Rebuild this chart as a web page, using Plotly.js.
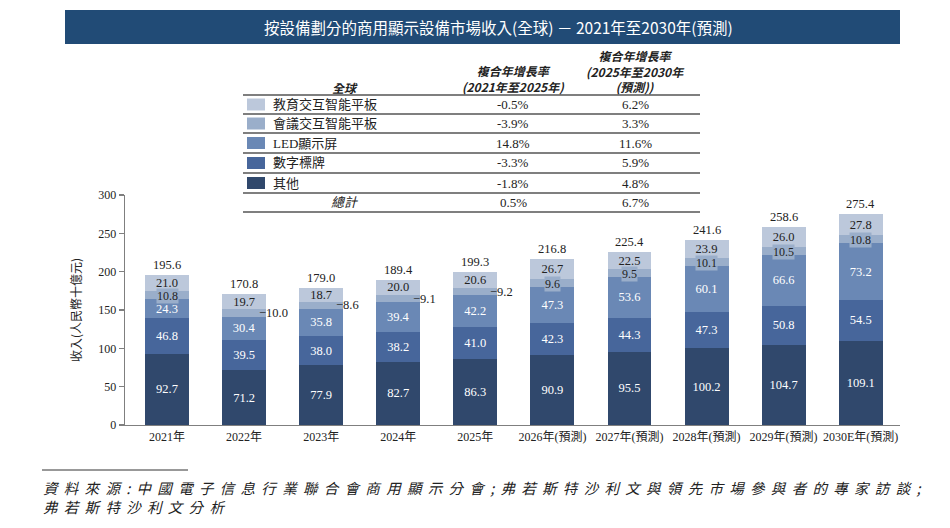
<!DOCTYPE html>
<html>
<head>
<meta charset="utf-8">
<script src="https://cdn.plot.ly/plotly-3.0.1.min.js"></script>
<style>
  html, body { margin: 0; padding: 0; background: #ffffff; }
  #chart { width: 950px; height: 528px; }
  /* widen the tracking of the two source lines at the foot of the chart */
  #chart g.annotation[data-index="0"] text,
  #chart g.annotation[data-index="1"] text { letter-spacing: 6.3px; }
</style>
</head>
<body>
<div id="chart"></div>
<script>
// ---- data -------------------------------------------------------------
const years = ['2021年', '2022年', '2023年', '2024年', '2025年',
               '2026年(預測)', '2027年(預測)', '2028年(預測)', '2029年(預測)', '2030E年(預測)'];

const other      = [92.7, 71.2, 77.9, 82.7, 86.3, 90.9, 95.5, 100.2, 104.7, 109.1];   // 其他
const signage    = [46.8, 39.5, 38.0, 38.2, 41.0, 42.3, 44.3, 47.3, 50.8, 54.5];      // 數字標牌
const ledDisplay = [24.3, 30.4, 35.8, 39.4, 42.2, 47.3, 53.6, 60.1, 66.6, 73.2];      // LED顯示屏
const conference = [10.8, 10.0, 8.6, 9.1, 9.2, 9.6, 9.5, 10.1, 10.5, 10.8];          // 會議交互智能平板
const education  = [21.0, 19.7, 18.7, 20.0, 20.6, 26.7, 22.5, 23.9, 26.0, 27.8];     // 教育交互智能平板
const totals     = [195.6, 170.8, 179.0, 189.4, 199.3, 216.8, 225.4, 241.6, 258.6, 275.4];

// CAGR table rows (top to bottom)
const tableNames = ['教育交互智能平板', '會議交互智能平板', 'LED顯示屏', '數字標牌', '其他'];
const cagr2125   = ['-0.5%', '-3.9%', '14.8%', '-3.3%', '-1.8%'];
const cagr2530   = ['6.2%', '3.3%', '11.6%', '5.9%', '4.8%'];
const totalName  = '總計';
const totalCagr  = ['0.5%', '6.7%'];

const yTicks = [0, 50, 100, 150, 200, 250, 300];

// ---- styling ----------------------------------------------------------
const COL = {
  education: '#bcc8db',
  conference: '#9aaeca',
  led: '#6a88b5',
  signage: '#47669b',
  other: '#30486c'
};
const tableColors = [COL.education, COL.conference, COL.led, COL.signage, COL.other];
const SERIF = '"Liberation Serif", "Noto Sans CJK TC", serif';
const CJK = '"Noto Sans CJK TC", "Liberation Serif", sans-serif';
// years whose conference value sits beside the bar instead of inside it
const confBeside = ['2022年', '2023年', '2024年', '2025年'];

// plot area in pixels
const L = 125, R = 900, T = 195, B = 425;
const px = x => (x - L) / (R - L);
const py = y => (B - y) / (B - T);

function segment(name, vals, color, textColor, withText) {
  return {
    type: 'bar', name: name, x: years, y: vals,
    width: 0.57,
    marker: { color: color, line: { width: 0 } },
    texttemplate: withText ? '%{y:.1f}' : '',
    textposition: withText ? 'inside' : 'none',
    insidetextanchor: 'middle',
    constraintext: 'none',
    textangle: 0,
    textfont: { family: SERIF, size: 12.5, color: textColor },
    hoverinfo: 'skip'
  };
}

const traces = [
  segment('其他', other, COL.other, '#ffffff', true),
  segment('數字標牌', signage, COL.signage, '#ffffff', true),
  segment('LED顯示屏', ledDisplay, COL.led, '#ffffff', true),
  segment('會議交互智能平板', conference, COL.conference, '#222222', false),
  segment('教育交互智能平板', education, COL.education, '#222222', true)
];

// ---- annotations & shapes ---------------------------------------------
const annotations = [];
const shapes = [];

// source lines (kept first so the tracking rule above applies to them)
annotations.push({
  xref: 'paper', yref: 'paper', x: px(42), y: py(487), xanchor: 'left', yanchor: 'middle',
  align: 'left', showarrow: false, borderpad: 0,
  text: '<i>資料來源:中國電子信息行業聯合會商用顯示分會;弗若斯特沙利文與領先市場參與者的專家訪談;</i>',
  font: { family: CJK, size: 14.5, color: '#222222' }
});
annotations.push({
  xref: 'paper', yref: 'paper', x: px(42), y: py(506), xanchor: 'left', yanchor: 'middle',
  align: 'left', showarrow: false, borderpad: 0,
  text: '<i>弗若斯特沙利文分析</i>',
  font: { family: CJK, size: 14.5, color: '#222222' }
});
shapes.push({ type: 'line', xref: 'paper', yref: 'paper', x0: px(42), x1: px(188), y0: py(470), y1: py(470),
  line: { color: '#333333', width: 1 } });

// heading band
shapes.push({ type: 'rect', xref: 'paper', yref: 'paper', x0: px(65), x1: px(900), y0: py(44), y1: py(10),
  fillcolor: '#214b76', line: { width: 0 }, layer: 'below' });
annotations.push({
  xref: 'paper', yref: 'paper', x: px(498), y: py(27), xanchor: 'center', yanchor: 'middle', showarrow: false,
  text: '按設備劃分的商用顯示設備市場收入(全球) － 2021年至2030年(預測)',
  font: { family: CJK, size: 15.5, color: '#ffffff' }
});

// totals above each stack
years.forEach((yr, i) => {
  annotations.push({
    x: yr, y: totals[i], xref: 'x', yref: 'y', yanchor: 'bottom', showarrow: false, yshift: 1,
    text: totals[i].toFixed(1), font: { family: SERIF, size: 12.5, color: '#222222' }
  });
});

// conference-panel values
years.forEach((yr, i) => {
  const base = other[i] + signage[i] + ledDisplay[i];
  const mid = base + conference[i] / 2;
  if (confBeside.includes(yr)) {
    annotations.push({
      x: i + 0.285, y: mid, xref: 'x', yref: 'y', xanchor: 'left', yanchor: 'middle', showarrow: false,
      xshift: -9, text: '−' + conference[i].toFixed(1),
      font: { family: SERIF, size: 12.5, color: '#222222' }
    });
  } else {
    annotations.push({
      x: yr, y: mid, xref: 'x', yref: 'y', yanchor: 'middle', showarrow: false, yshift: -1,
      text: conference[i].toFixed(1), bgcolor: COL.conference, borderpad: 0,
      font: { family: SERIF, size: 12, color: '#222222' }
    });
  }
});

// CAGR table
const tLeft = 243, tRight = 700, col2 = 513, col3 = 635, nameX = 272, headX = 345;
const ruleY = [95, 114, 133, 153, 173, 193, 212];
ruleY.forEach(y => shapes.push({
  type: 'line', xref: 'paper', yref: 'paper', x0: px(tLeft), x1: px(tRight), y0: py(y), y1: py(y),
  line: { color: '#555555', width: 1.3 }
}));
function cell(x, y, text, anchor, font) {
  annotations.push({
    xref: 'paper', yref: 'paper', x: px(x), y: py(y), xanchor: anchor, yanchor: 'middle',
    showarrow: false, borderpad: 0, text: text, font: font
  });
}
const headFont = { family: CJK, size: 12, color: '#222222' };
const bodyFont = { family: SERIF, size: 13, color: '#222222' };
cell(headX, 87, '<b><i>全球</i></b>', 'center', headFont);
cell(col2, 78.5, '<b><i>複合年增長率<br>(2021年至2025年)</i></b>', 'center', headFont);
cell(col3, 71, '<b><i>複合年增長率<br>(2025年至2030年<br>(預測))</i></b>', 'center', headFont);

tableNames.forEach((nm, r) => {
  const yc = (ruleY[r] + ruleY[r + 1]) / 2;
  shapes.push({
    type: 'rect', xref: 'paper', yref: 'paper', x0: px(247), x1: px(265), y0: py(yc + 6), y1: py(yc - 6),
    fillcolor: tableColors[r], line: { width: 0 }
  });
  cell(nameX, yc, nm, 'left', bodyFont);
  cell(col2, yc, cagr2125[r], 'center', bodyFont);
  cell(col3, yc, cagr2530[r], 'center', bodyFont);
});
const totY = (ruleY[5] + ruleY[6]) / 2;
cell(headX, totY, '<i>' + totalName + '</i>', 'center', bodyFont);
cell(col2, totY, totalCagr[0], 'center', bodyFont);
cell(col3, totY, totalCagr[1], 'center', bodyFont);

// ---- layout -------------------------------------------------------------
const layout = {
  width: 950, height: 528,
  margin: { l: L, r: 950 - R, t: T, b: 528 - B, pad: 0 },
  paper_bgcolor: '#ffffff', plot_bgcolor: '#ffffff',
  barmode: 'stack', bargap: 0.43,
  showlegend: false,
  font: { family: SERIF, size: 12, color: '#222222' },
  xaxis: {
    type: 'category', range: [-0.545, 9.51],
    showline: true, linecolor: '#7f7f7f', linewidth: 1.3,
    ticks: '', showgrid: false, zeroline: false,
    tickfont: { family: SERIF, size: 12, color: '#222222' }
  },
  yaxis: {
    range: [0, 300], tickvals: yTicks, ticktext: yTicks.map(String),
    showline: true, linecolor: '#7f7f7f', linewidth: 1.3,
    ticks: 'outside', ticklen: 5, tickcolor: '#7f7f7f', tickwidth: 1.3,
    showgrid: false, zeroline: false,
    tickfont: { family: SERIF, size: 12, color: '#222222' },
    title: { text: '收入(人民幣十億元)', standoff: 14, font: { family: CJK, size: 12, color: '#222222' } }
  },
  shapes: shapes,
  annotations: annotations
};

Plotly.newPlot('chart', traces, layout, { displayModeBar: false, staticPlot: true });
</script>
</body>
</html>
